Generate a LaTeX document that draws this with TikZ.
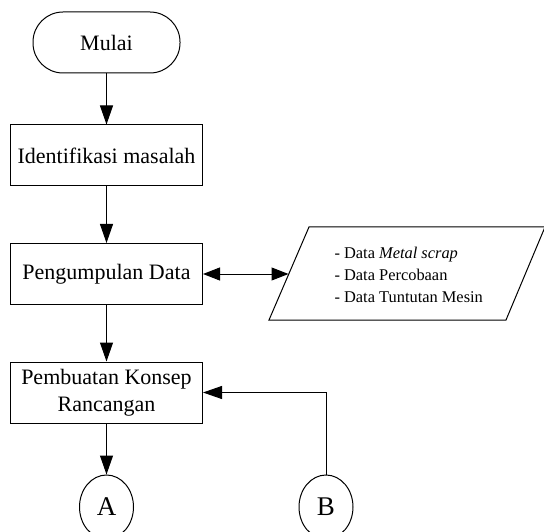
\documentclass[tikz,border=0pt]{standalone}
\usepackage{fontspec}
\setmainfont{Liberation Serif}
\usetikzlibrary{arrows.meta,shapes.geometric}

\begin{document}
\begin{tikzpicture}[x=1pt,y=-1pt,
    proses/.style={draw,line width=1pt,minimum width=192pt,minimum height=61pt,inner sep=2pt,font=\fontsize{22}{27}\selectfont,align=center},
    terminal/.style={draw,line width=1pt,rounded corners=30pt,minimum width=147pt,minimum height=61pt,font=\fontsize{22}{27}\selectfont},
    konektor/.style={draw,line width=1pt,ellipse,minimum width=54pt,minimum height=64pt,inner sep=0pt,font=\fontsize{27}{30}\selectfont},
    panah/.style={line width=1pt,-{Triangle[length=19pt,width=13pt]}},
    panah2/.style={line width=1pt,{Triangle[length=17pt,width=13pt]}-{Triangle[length=17pt,width=13pt]}}]
                \useasboundingbox (0,0) rectangle (544,532);
                \node[terminal] (mulai) at (106.5,42.5) {Mulai}; % mulai
                \node[proses] (identifikasi) at (106.5,155.5) {Identifikasi masalah};
                \node[proses] (pengumpulan) at (106.5,274) {Pengumpulan Data};
                \node[proses] (konsep) at (106.5,392.5) {Pembuatan Konsep\\Rancangan};
                \node[konektor] (a) at (106.5,507) {A};
                \node[konektor] (b) at (326,507) {B};
                \draw[line width=1pt] (309,227) -- (545,227) -- (506,320) -- (269,320) -- cycle; % data masukan
                \coordinate (datain) at (288.5,274);
                \node[anchor=west,align=left,font=\fontsize{16.4}{22}\selectfont] (data) at (331,275) {- Data \textit{Metal scrap}\\- Data Percobaan\\- Data Tuntutan Mesin};
                \draw[panah] (mulai) -- (identifikasi);
                \draw[panah] (identifikasi) -- (pengumpulan);
                \draw[panah] (pengumpulan) -- (konsep);
                \draw[panah] (konsep) -- (a);
                \draw[panah2] (pengumpulan) -- (datain);
                \draw[panah] (b.north) |- (konsep.east); % kembali dari B
\end{tikzpicture}
\end{document}
